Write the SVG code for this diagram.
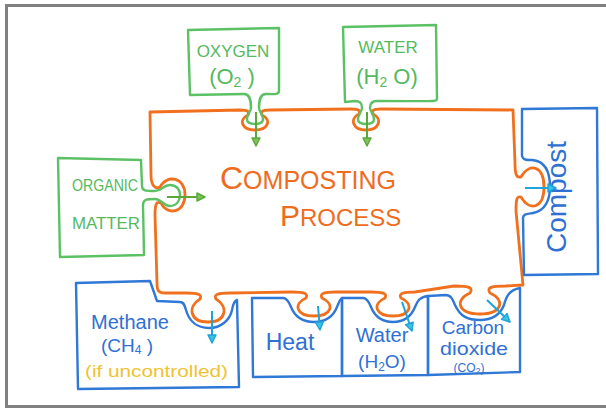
<svg xmlns="http://www.w3.org/2000/svg" width="606" height="409" viewBox="0 0 606 409">
  <defs>
    <marker id="headGreen" viewBox="0 0 10 10" refX="9" refY="5" markerWidth="10" markerHeight="10" markerUnits="userSpaceOnUse" orient="auto">
      <path d="M1,1 L9,5 L1,9 Z" fill="#7dc35a" stroke="#5aa83a" stroke-width="1.4" stroke-linejoin="round"/>
    </marker>
    <marker id="headBlue" viewBox="0 0 10 10" refX="9" refY="5" markerWidth="10" markerHeight="10" markerUnits="userSpaceOnUse" orient="auto">
      <path d="M1,1 L9,5 L1,9 Z" fill="#3cc0e8" stroke="#1da4d8" stroke-width="1.4" stroke-linejoin="round"/>
    </marker>
  </defs>
  <style>
    .frame { fill: none; stroke: #808080; stroke-width: 3; }
    .outline { fill: none; stroke-width: 2.4; stroke-linejoin: round; stroke-linecap: round; }
    .green { stroke: #5cc065; }
    .orange { stroke: #f0701e; stroke-width: 2.8; }
    .blue { stroke: #2f78d6; }
    .arrow-g { fill: none; stroke: #5aa83a; stroke-width: 2; marker-end: url(#headGreen); }
    .arrow-b { fill: none; stroke: #1da4d8; stroke-width: 2; marker-end: url(#headBlue); }
    text { font-family: "Liberation Sans", "DejaVu Sans", sans-serif; }
    .tg { fill: #55b95e; }
    .to { fill: #ef6c1d; }
    .tb { fill: #2f70d2; }
    .ty { fill: #f0c232; }
  </style>

  <rect width="606" height="409" fill="#ffffff"/>
  <path class="frame" d="M606,5.5 H6.5 V406.5 H606"/>

  <!-- central process outline with puzzle sockets -->
  <g id="composting-process">
    <path class="outline orange" d="M150,112 L240,110 C249,110 249,112 248,115 C238,120 242,130 255,130 C268,130 272,120 262,115 C261,112 261,110 270,110 L351,109 C360,109 360,111 359,114 C349,119 353,130 366,130 C379,130 383,119 373,114 C372,111 372,109 381,109 L513,110 L515,163 C515,176 517,178 521,177 C530,162 544,166 544,187 C544,208 530,212 521,197 C517,196 516,198 516,211 L523,285 L506,286 C489,286 487,288 490,293 C506,300 502,314 480,314 C458,314 454,300 470,293 C473,288 471,286 454,286 L415,292 C401,292 399,294 401,298 C414,304 411,316 393,316 C375,316 372,304 385,298 C387,294 385,292 371,292 L336,292 C322,292 320,294 322,298 C335,304 332,316 314,316 C296,316 293,304 306,298 C308,294 306,292 292,292 L230,293 C216,293 214,295 216,299 C229,307 226,322 208,322 C190,322 187,307 200,299 C202,295 200,293 186,293 L165,293 C158,293 157,290 157,283 L155,215 C155,203 157,201 161,203 C167,216 185,213 185,195 C185,177 167,174 160,187 C156,189 151,187 151,175 Z"/>
    <text class="to" x="220" y="189"><tspan font-size="32">C</tspan><tspan font-size="25">OMPOSTING</tspan></text>
    <text class="to" x="280" y="226"><tspan font-size="30">P</tspan><tspan font-size="24">ROCESS</tspan></text>
  </g>

  <!-- inputs -->
  <g id="oxygen">
    <path class="outline green" d="M188,30 L279,28 L279,91 C279,95 273,94 266,94 C260,94 259,100 259,108 C259,111 263,115 263,119 C263,123 259,124 255,124 C251,124 247,123 247,119 C247,115 251,111 251,108 C251,100 250,94 244,94 L190,95 Z"/>
    <text class="tg" x="233" y="57" font-size="17" text-anchor="middle">OXYGEN</text>
    <text class="tg" x="232" y="84" font-size="22" text-anchor="middle">(O<tspan font-size="14" dy="3">2</tspan><tspan dy="-3"> )</tspan></text>
  </g>

  <g id="water-in">
    <path class="outline green" d="M343,27 L436,25 L437,99 C437,102 433,101 377,101 C371,101 370,105 370,108 C370,111 374,115 374,119 C374,123 370,124 366,124 C362,124 358,123 358,119 C358,115 362,111 362,108 C362,104 361,101 355,101 L345,102 Z"/>
    <text class="tg" x="388" y="53" font-size="17" text-anchor="middle">WATER</text>
    <text class="tg" x="387" y="84" font-size="22" text-anchor="middle">(H<tspan font-size="14" dy="3">2</tspan><tspan dy="-3"> O)</tspan></text>
  </g>

  <g id="organic-matter">
    <path class="outline green" d="M58,158 L141,160 L142,186 C142,191 146,191 155,191 C162,191 163,185 170,185 C177,185 180,190 180,195 C180,200 177,206 170,206 C163,206 162,199 155,199 C147,199 143,199 143,205 L144,255 L60,257 Z"/>
    <text class="tg" x="72" y="191" font-size="16" textLength="66" lengthAdjust="spacingAndGlyphs">ORGANIC</text>
    <text class="tg" x="72" y="229" font-size="17" textLength="68" lengthAdjust="spacingAndGlyphs">MATTER</text>
  </g>

  <!-- outputs -->
  <g id="compost">
    <path class="outline blue" d="M522,109 L597,108 L598,274 L524,275 L523,218 C523,214 527,214 533,213 C545,211 550,200 550,187 C550,172 545,161 532,160 C526,160 523,160 522,156 Z"/>
    <text class="tb" font-size="28" text-anchor="middle" transform="translate(566,197) rotate(-90)">Compost</text>
  </g>

  <g id="methane">
    <path class="outline blue" d="M76,283 L150,281 L157,301 L180,302 C184,302 185,306 186,310 C189,321 197,328 209,328 C221,328 230,320 232,310 C233,304 234,301 237,300 L239,387 L78,389 Z"/>
    <text class="tb" x="130" y="329" font-size="20" text-anchor="middle">Methane</text>
    <text class="tb" x="101" y="352" font-size="19">(CH<tspan font-size="12" dy="2">4</tspan><tspan dy="-2"> )</tspan></text>
    <text class="ty" x="85" y="377" font-size="17" textLength="143" lengthAdjust="spacingAndGlyphs">(if uncontrolled)</text>
  </g>

  <g id="heat">
    <path class="outline blue" d="M252,298 L283,298 C287,298 289,302 291,307 C295,317 303,322 314,322 C325,322 333,317 337,307 C339,302 340,299 342,298 L342,376 L253,377 Z"/>
    <text class="tb" x="290" y="350" font-size="23" text-anchor="middle">Heat</text>
  </g>

  <g id="water-out">
    <path class="outline blue" d="M342,298 L363,298 C367,298 369,302 371,307 C375,317 382,322 393,322 C404,322 411,317 415,307 C417,302 419,297 428,296 L428,375 L342,376 Z"/>
    <text class="tb" x="382" y="342" font-size="20" text-anchor="middle">Water</text>
    <text class="tb" x="382" y="368" font-size="19" text-anchor="middle">(H<tspan font-size="12" dy="3">2</tspan><tspan dy="-3">O)</tspan></text>
  </g>

  <g id="carbon-dioxide">
    <path class="outline blue" d="M428,296 L446,295 C451,295 453,300 455,305 C460,316 467,320 480,320 C493,320 500,315 504,305 C506,297 509,290 520,288 L520,372 L428,375 Z"/>
    <text class="tb" x="473" y="334" font-size="19" text-anchor="middle">Carbon</text>
    <text class="tb" x="474" y="355" font-size="19" text-anchor="middle" textLength="68" lengthAdjust="spacingAndGlyphs">dioxide</text>
    <text class="tb" x="469" y="372" font-size="12" text-anchor="middle">(CO<tspan font-size="9" dy="2">2</tspan><tspan dy="-2">)</tspan></text>
  </g>

  <!-- flow arrows -->
  <g id="connectors">
    <path class="arrow-g" d="M256,112 L256,146"/>
    <path class="arrow-g" d="M367,112 L367,146"/>
    <path class="arrow-g" d="M167,197 L205,197"/>
    <path class="arrow-b" d="M525,188 L556,188"/>
    <path class="arrow-b" d="M212,311 L212,343"/>
    <path class="arrow-b" d="M318,306 L320,330"/>
    <path class="arrow-b" d="M402,302 L412,331"/>
    <path class="arrow-b" d="M487,300 L510,322"/>
  </g>
</svg>
